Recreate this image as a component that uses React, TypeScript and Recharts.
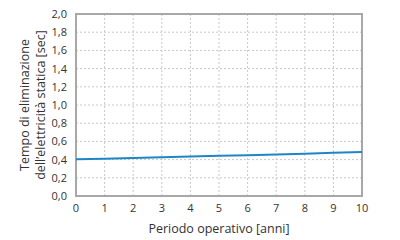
import React from "react";
import { LineChart, Line, XAxis, YAxis, CartesianGrid, ReferenceArea } from "recharts";

const years = [0, 1, 2, 3, 4, 5, 6, 7, 8, 9, 10];
const times = [0.403, 0.41, 0.418, 0.425, 0.433, 0.441, 0.449, 0.457, 0.465, 0.474, 0.484];
const xTicks = [0, 1, 2, 3, 4, 5, 6, 7, 8, 9, 10];
const yTicks = [0, 0.2, 0.4, 0.6, 0.8, 1.0, 1.2, 1.4, 1.6, 1.8, 2.0];
const xTitle = "Periodo operativo [anni]";
const yTitle1 = "Tempo di eliminazione";
const yTitle2 = "dell’elettricità statica [sec]";

const data = years.map((y, i) => ({ year: y, t: times[i] }));
const font = "'Open Sans', 'Noto Sans', sans-serif";

const YLabel = (props: any) => {
  const vb = props.viewBox || {};
  const cy = vb.y + vb.height / 2;
  return (
    <g fontFamily={font} fontSize={12.5} fill="#333">
      <text x={24} y={cy} textAnchor="middle" dominantBaseline="central" transform={`rotate(-90, 24, ${cy})`}>
        {yTitle1}
      </text>
      <text x={40} y={cy} textAnchor="middle" dominantBaseline="central" transform={`rotate(-90, 40, ${cy})`}>
        {yTitle2}
      </text>
    </g>
  );
};

export default function App() {
  return (
    <div style={{ position: "absolute", left: 0, top: 0, background: "#fff" }}>
      <LineChart width={400} height={240} data={data} margin={{ top: 14, right: 38, bottom: 0, left: 0 }}>
        <CartesianGrid stroke="#c8c8c8" strokeDasharray="2 2" />
        <XAxis
          dataKey="year"
          type="number"
          domain={[0, 10]}
          ticks={xTicks}
          interval={0}
          height={44}
          axisLine={false}
          tickLine={false}
          tick={{ fontFamily: font, fontSize: 11, fill: "#333" }}
          tickMargin={2}
          label={{ value: xTitle, position: "insideBottom", offset: 7, style: { fontFamily: font, fontSize: 12.5, fill: "#333" } }}
        />
        <YAxis
          type="number"
          domain={[0, 2]}
          ticks={yTicks}
          interval={0}
          width={76}
          axisLine={false}
          tickLine={false}
          tick={{ fontFamily: font, fontSize: 11, fill: "#333" }}
          tickMargin={3}
          tickFormatter={(v: number) => v.toFixed(1).replace(".", ",")}
          label={<YLabel />}
        />
        <ReferenceArea x1={0} x2={10} y1={0} y2={2} fill="none" stroke="#a8a8a8" strokeWidth={2} ifOverflow="visible" />
        <Line type="linear" dataKey="t" stroke="#1f86c6" strokeWidth={2} dot={false} isAnimationActive={false} />
      </LineChart>
    </div>
  );
}
